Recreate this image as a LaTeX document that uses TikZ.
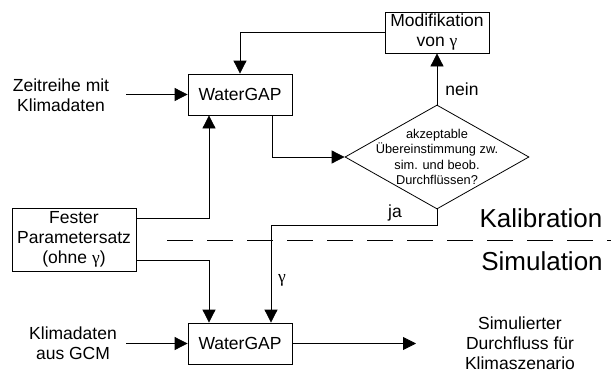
\documentclass[tikz,border=0pt]{standalone}
\usepackage{fontspec}
\setmainfont{Liberation Sans}
\newfontfamily\gfont{Liberation Serif}
\usetikzlibrary{arrows.meta,shapes.geometric}
\begin{document}
\begin{tikzpicture}[x=1pt,y=-1pt, line width=0.8pt,
  box/.style={draw, rectangle, inner sep=0pt, align=center, font=\fontsize{17.5}{20}\selectfont},
  lbl/.style={inner sep=0pt, align=center, font=\fontsize{17.5}{20}\selectfont},
  small/.style={inner sep=0pt, align=center, font=\fontsize{12.8}{15.3}\selectfont},
  big/.style={inner sep=0pt, align=center, font=\fontsize{26}{30}\selectfont},
  arr/.style={-{Triangle[length=13pt,width=13pt]}}]
\useasboundingbox (0,0) rectangle (611,372);

\node[box, minimum width=104pt, minimum height=41pt] (wg1) at (240,94.5) {WaterGAP};
\node[box, minimum width=104pt, minimum height=41pt] (wg2) at (240,343.5) {WaterGAP};
\node[box, minimum width=104pt, minimum height=41pt] (mod) at (437,32.5) {Modifikation\\von {\gfont γ}};
\node[box, minimum width=124pt, minimum height=63pt] (fest) at (74,239.5) {Fester\\Parametersatz\\(ohne {\gfont γ})};
\node[draw, diamond, minimum width=184pt, minimum height=104pt, inner sep=0pt] (dec) at (437,157) {};
\node[small] (dect) at (dec.center) {akzeptable\\Übereinstimmung zw.\\sim. und beob.\\Durchflüssen?};

\node[lbl] (zk) at (61,95) {Zeitreihe mit\\Klimadaten};
\node[lbl] (gcm) at (73,343) {Klimadaten\\aus GCM};
\node[lbl] (sim) at (520,343) {Simulierter\\Durchfluss für\\Klimaszenario};
\coordinate (zin) at (126,94.5);
\coordinate (gin) at (126,343.5);
\coordinate (sout) at (416,343.5);

\node[lbl] (nein) at (462,89) {nein};
\node[lbl] (ja) at (395,213) {ja};
\node[lbl] (gam) at (282,280) {\gfont γ};

\node[big] (kal) at (541,218) {Kalibration};
\node[big] (simu) at (542,261) {Simulation};
\coordinate (dl) at (167,240);
\coordinate (dr) at (611,240);
\draw[dash pattern=on 26pt off 14pt] (dl) -- (dr);

\draw[arr] (zin) -- (wg1.west);
\draw[arr] (gin) -- (wg2.west);
\draw[arr] (wg2.east) -- (sout);
\draw[arr] (mod.west) -| (wg1.north);
\draw[arr] ([yshift=-11pt]fest.north east) -| ([xshift=-31pt]wg1.south);
\draw[arr] ([yshift=11pt]fest.south east) -| ([xshift=-31pt]wg2.north);
\draw[arr] ([xshift=32pt]wg1.south) |- (dec.west);
\draw[arr] (dec.north) -- (mod.south);
\draw[arr] (dec.south) -- ++(0,16) -| ([xshift=31pt]wg2.north);
\end{tikzpicture}
\end{document}
